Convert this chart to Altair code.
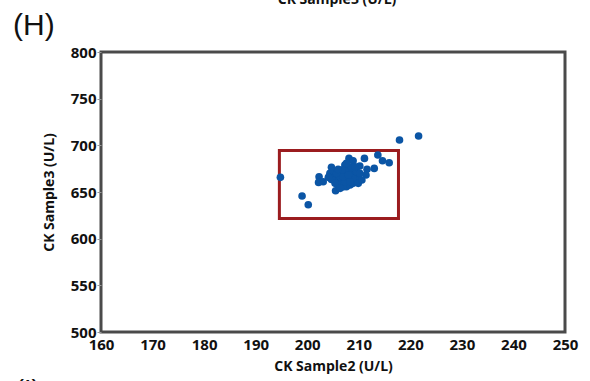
import altair as alt
import pandas as pd

# Scatter data (CK Sample2 vs CK Sample3, U/L)
sample2 = [194.8, 199.0, 200.2, 202.3, 202.2, 203.1, 204.7, 205.5, 208.1, 208.9,
           207.3, 211.1, 210.2, 211.6, 213.0, 211.4, 213.7, 214.6, 215.9, 217.9, 221.6,
           204.4, 205.1, 205.4, 205.7, 204.7, 204.1, 206.4, 206.7, 206.0, 207.0,
           207.6, 208.3, 208.9, 209.6, 209.9, 209.3, 208.6, 208.0, 207.3, 206.7,
           208.3, 207.6, 208.9, 209.6, 210.2, 206.4, 205.7, 207.3, 208.3, 207.0,
           208.0, 208.6, 209.3, 207.6, 206.0, 205.4, 209.9, 210.6, 206.4]
sample3 = [665.7, 645.7, 636.3, 666.4, 660.3, 661.0, 676.4, 651.4, 686.0, 683.5,
           679.0, 686.0, 677.8, 674.3, 675.3, 668.2, 689.6, 683.5, 681.4, 705.7, 710.0,
           670.0, 671.8, 666.4, 662.8, 663.5, 665.7, 670.0, 662.8, 657.5, 655.7,
           655.7, 657.5, 659.3, 661.1, 666.4, 670.0, 671.8, 673.5, 671.8, 673.5,
           666.4, 664.6, 664.6, 671.8, 670.0, 666.4, 670.0, 661.1, 661.1, 666.4,
           668.2, 677.1, 677.1, 680.7, 674.3, 659.3, 659.3, 662.8, 653.9]

# Highlight box
box_x = [194.6]
box_x2 = [217.7]
box_y = [621.5]
box_y2 = [694.5]

x_ticks = [160, 170, 180, 190, 200, 210, 220, 230, 240, 250]
y_ticks = [500, 550, 600, 650, 700, 750, 800]

pts = pd.DataFrame({"s2": sample2, "s3": sample3})
box = pd.DataFrame({"x": box_x, "x2": box_x2, "y": box_y, "y2": box_y2})

FONT = "Open Sans"

xscale = alt.Scale(domain=[160, 250], nice=False, zero=False)
yscale = alt.Scale(domain=[500, 800], nice=False, zero=False)

xaxis = alt.Axis(title="CK Sample2 (U/L)", values=x_ticks, grid=False, domain=False,
                 ticks=False, labelFlush=False, labelOverlap=False,
                 labelFont=FONT, labelFontWeight="bold", labelFontSize=15,
                 labelColor="#111", labelPadding=5, titleFont=FONT, titleFontWeight="bold",
                 titleFontSize=14, titleColor="#111", titlePadding=7)
yaxis = alt.Axis(title="CK Sample3 (U/L)", values=y_ticks, grid=False, domain=False,
                 ticks=True, tickSize=4, tickColor="#999", labelFlush=False,
                 labelOverlap=False, labelFont=FONT,
                 labelFontWeight="bold", labelFontSize=15, labelColor="#111",
                 labelPadding=1, titleFont=FONT, titleFontWeight="bold",
                 titleFontSize=14, titleColor="#111", titlePadding=14)

points = alt.Chart(pts).mark_circle(size=58, color="#0B55A5", opacity=1).encode(
    x=alt.X("s2:Q", scale=xscale, axis=xaxis),
    y=alt.Y("s3:Q", scale=yscale, axis=yaxis),
)

rect = alt.Chart(box).mark_rect(fill=None, stroke="#9B1C1F", strokeWidth=3).encode(
    x=alt.X("x:Q", scale=xscale),
    x2="x2:Q",
    y=alt.Y("y:Q", scale=yscale),
    y2="y2:Q",
)

label_h = alt.Chart(pd.DataFrame({"t": ["(H)"]})).mark_text(
    font="Liberation Sans", fontSize=30, align="left", baseline="alphabetic", color="#111"
).encode(x=alt.value(-88), y=alt.value(-17), text="t:N")

top_cut = alt.Chart(pd.DataFrame({"t": ["CK Sample3 (U/L)"]})).mark_text(
    font=FONT, fontWeight="bold", fontSize=14, align="center", baseline="alphabetic", color="#111"
).encode(x=alt.value(236), y=alt.value(-48), text="t:N")

label_i = alt.Chart(pd.DataFrame({"t": ["(I)"]})).mark_text(
    font="Liberation Sans", fontSize=27, align="left", baseline="top", color="#111"
).encode(x=alt.value(-86), y=alt.value(326), text="t:N")

chart = alt.layer(rect, points, label_h, top_cut, label_i).properties(
    width=464, height=280,
    autosize=alt.AutoSizeParams(type="none"),
    padding={"left": 101, "top": 52, "right": 25, "bottom": 49},
    background="white",
).configure_view(stroke="#4a4a4a", strokeWidth=3)

chart.save("out.html", embed_options={"renderer": "svg", "actions": False})
